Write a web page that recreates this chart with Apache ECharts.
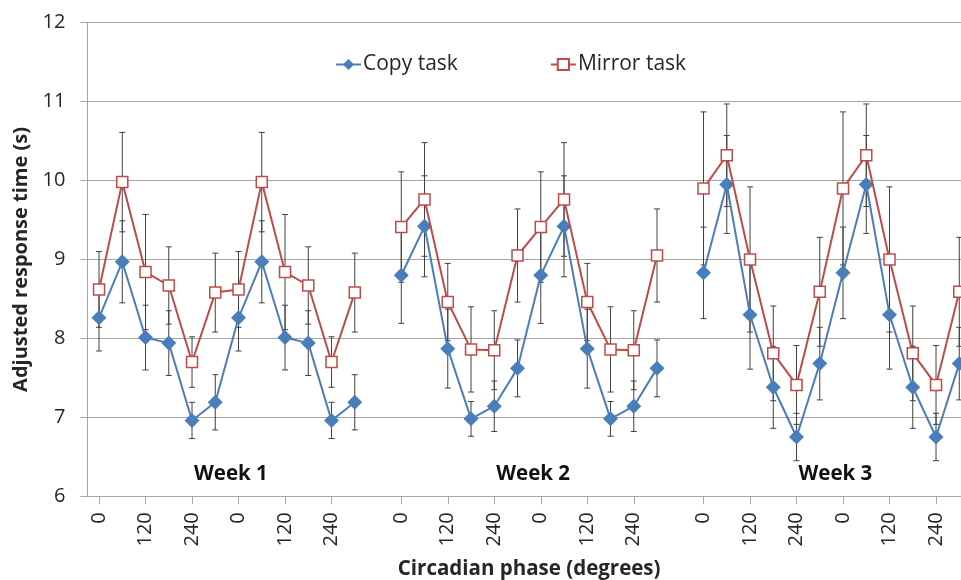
<!DOCTYPE html>
<html><head><meta charset="utf-8">
<script src="https://cdn.jsdelivr.net/npm/echarts@6/dist/echarts.min.js"></script>
<style>html,body{margin:0;padding:0;background:#fff;overflow:hidden}#c{width:961px;height:580px}</style>
</head><body><div id="c"></div>
<script>
// Phase categories of one week (each week is shown over two cycles)
const phases = ["0","60","120","180","240","300","0","60","120","180","240","300"];
const shownTicks = ["0","120","240"];
const weekNames = ["Week 1","Week 2","Week 3"];

// Copy task means and error (s)
const copyW1 = [8.26, 8.97, 8.01, 7.94, 6.96, 7.19, 8.26, 8.97, 8.01, 7.94, 6.96, 7.19];
const copyW1Err = [0.42, 0.52, 0.41, 0.41, 0.23, 0.35, 0.42, 0.52, 0.41, 0.41, 0.23, 0.35];
const copyW2 = [8.80, 9.42, 7.87, 6.98, 7.14, 7.62, 8.80, 9.42, 7.87, 6.98, 7.14, 7.62];
const copyW2Err = [0.61, 0.64, 0.50, 0.22, 0.32, 0.36, 0.61, 0.64, 0.50, 0.22, 0.32, 0.36];
const copyW3 = [8.83, 9.95, 8.30, 7.38, 6.75, 7.68, 8.83, 9.95, 8.30, 7.38, 6.75, 7.68];
const copyW3Err = [0.58, 0.62, 0.69, 0.52, 0.30, 0.46, 0.58, 0.62, 0.69, 0.52, 0.30, 0.46];

// Mirror task means and error (s)
const mirrorW1 = [8.62, 9.98, 8.84, 8.67, 7.70, 8.58, 8.62, 9.98, 8.84, 8.67, 7.70, 8.58];
const mirrorW1Err = [0.48, 0.63, 0.73, 0.49, 0.32, 0.50, 0.48, 0.63, 0.73, 0.49, 0.32, 0.50];
const mirrorW2 = [9.41, 9.76, 8.46, 7.86, 7.85, 9.05, 9.41, 9.76, 8.46, 7.86, 7.85, 9.05];
const mirrorW2Err = [0.70, 0.72, 0.49, 0.54, 0.50, 0.59, 0.70, 0.72, 0.49, 0.54, 0.50, 0.59];
const mirrorW3 = [9.90, 10.32, 9.00, 7.81, 7.41, 8.59, 9.90, 10.32, 9.00, 7.81, 7.41, 8.59];
const mirrorW3Err = [0.97, 0.65, 0.92, 0.60, 0.50, 0.69, 0.97, 0.65, 0.92, 0.60, 0.50, 0.69];

// ---- build axis / series data (one empty category between weeks) ----
const categories = [...phases, "", ...phases, "", ...phases];
function joinWeeks(a, b, c) { return [...a, null, ...b, null, ...c]; }
const copyVals = joinWeeks(copyW1, copyW2, copyW3);
const copyErrs = joinWeeks(copyW1Err, copyW2Err, copyW3Err);
const mirrorVals = joinWeeks(mirrorW1, mirrorW2, mirrorW3);
const mirrorErrs = joinWeeks(mirrorW1Err, mirrorW2Err, mirrorW3Err);
function errData(vals, errs) {
  const out = [];
  vals.forEach((v, i) => { if (v != null) out.push([i, v - errs[i], v + errs[i]]); });
  return out;
}

const FONT = '"Open Sans", "Liberation Sans", sans-serif';
const TXT = '#262626';
const GRID = '#a6a6a6';
const BLUE = '#4a7ebb';
const RED = '#be4b48';

function errRender(params, api) {
  const x = api.value(0), lo = api.value(1), hi = api.value(2);
  const p1 = api.coord([x, hi]), p2 = api.coord([x, lo]);
  const hw = 3;
  const st = { stroke: '#404040', lineWidth: 1 };
  return { type: 'group', children: [
    { type: 'line', shape: { x1: p1[0], y1: p1[1], x2: p2[0], y2: p2[1] }, style: st },
    { type: 'line', shape: { x1: p1[0] - hw, y1: p1[1], x2: p1[0] + hw, y2: p1[1] }, style: st },
    { type: 'line', shape: { x1: p2[0] - hw, y1: p2[1], x2: p2[0] + hw, y2: p2[1] }, style: st }
  ]};
}
const tickFilter = (idx, val) => shownTicks.indexOf(val) >= 0;

const chart = echarts.init(document.getElementById('c'), null, { renderer: 'canvas' });
chart.setOption({
  animation: false,
  backgroundColor: '#fff',
  textStyle: { fontFamily: FONT },
  grid: { left: 87.4, width: 883.5, top: 22.7, height: 473.5, containLabel: false, outerBoundsMode: 'none' },
  legend: {
    data: ['Copy task', 'Mirror task'],
    left: 330, top: 49, itemGap: 92, itemWidth: 25, itemHeight: 14,
    textStyle: { fontSize: 21, color: TXT, fontFamily: FONT, padding: [0, 0, 0, -3] }
  },
  xAxis: {
    type: 'category', data: categories, boundaryGap: true,
    name: 'Circadian phase (degrees)', nameLocation: 'middle', nameGap: 62,
    nameTextStyle: { fontSize: 20.5, fontWeight: 'bold', color: TXT, fontFamily: FONT },
    axisLine: { lineStyle: { color: GRID, width: 1 } },
    axisTick: { show: true, alignWithLabel: true, interval: tickFilter, length: 8, lineStyle: { color: GRID } },
    axisLabel: { interval: tickFilter, rotate: 90, fontSize: 20, color: TXT, margin: 16, fontFamily: FONT },
    splitLine: { show: false }
  },
  yAxis: {
    type: 'value', min: 6, max: 12, interval: 1,
    name: 'Adjusted response time (s)', nameLocation: 'middle', nameGap: 46,
    nameTextStyle: { fontSize: 20, fontWeight: 'bold', color: TXT, fontFamily: FONT },
    axisLine: { show: true, lineStyle: { color: GRID, width: 1 } },
    axisTick: { show: true, length: 7, lineStyle: { color: GRID } },
    axisLabel: { fontSize: 20, color: TXT, margin: 22, fontFamily: FONT },
    splitLine: { show: true, lineStyle: { color: GRID, width: 1 } }
  },
  series: [
    { name: 'copyErr', type: 'custom', renderItem: errRender, data: errData(copyVals, copyErrs),
      encode: { x: 0, y: [1, 2] }, z: 1, silent: true },
    { name: 'mirrorErr', type: 'custom', renderItem: errRender, data: errData(mirrorVals, mirrorErrs),
      encode: { x: 0, y: [1, 2] }, z: 1, silent: true },
    { name: 'Copy task', type: 'line', data: copyVals, connectNulls: false, z: 3,
      symbol: 'diamond', symbolSize: [15, 15], showAllSymbol: true,
      lineStyle: { color: BLUE, width: 2 }, itemStyle: { color: BLUE, borderWidth: 0 } },
    { name: 'Mirror task', type: 'line', data: mirrorVals, connectNulls: false, z: 4,
      symbol: 'rect', symbolSize: 11, showAllSymbol: true,
      lineStyle: { color: RED, width: 2 }, itemStyle: { color: '#ffffff', borderColor: RED, borderWidth: 1.5 } }
  ]
});

// Week annotations, positioned through the chart's own scales
const weekStarts = [0, 13, 26];
const weekLabelValue = 6.28;
const gfx = weekNames.map((nm, k) => {
  const a = chart.convertToPixel({ xAxisIndex: 0, yAxisIndex: 0 }, [weekStarts[k] + 5, weekLabelValue]);
  const b = chart.convertToPixel({ xAxisIndex: 0, yAxisIndex: 0 }, [weekStarts[k] + 6, weekLabelValue]);
  return { type: 'text', x: (a[0] + b[0]) / 2 + 4, y: a[1], z: 10,
    style: { text: nm, fontSize: 20.5, fontWeight: 'bold', fill: '#111', fontFamily: FONT,
             align: 'center', verticalAlign: 'middle' } };
});
chart.setOption({ graphic: gfx });
</script></body></html>
